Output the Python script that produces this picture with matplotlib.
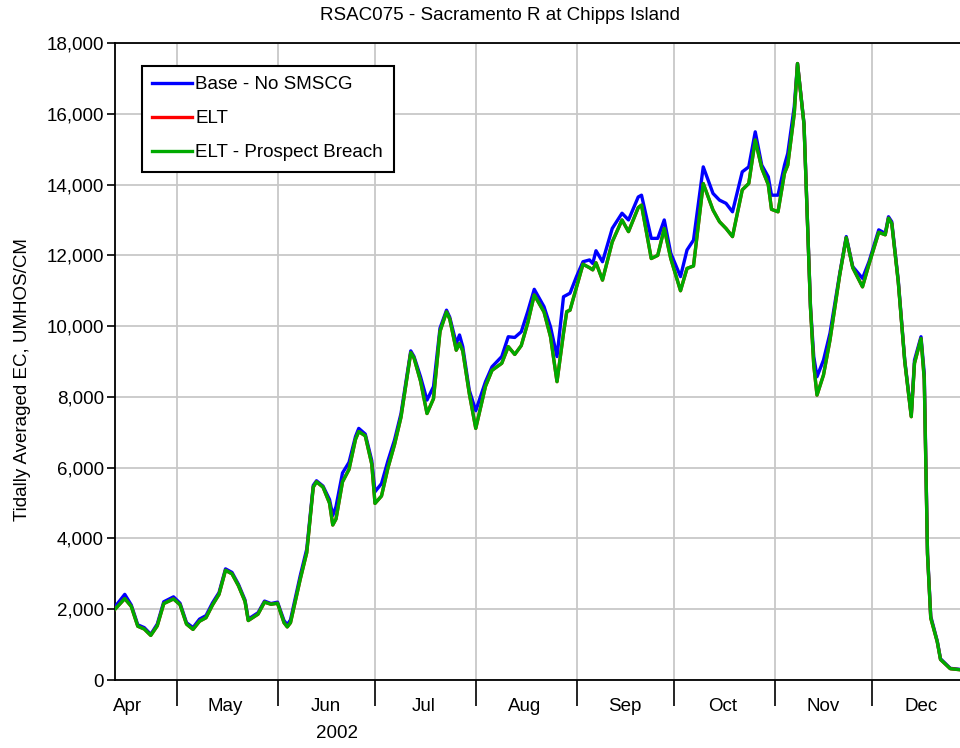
import matplotlib
matplotlib.use('Agg')
import matplotlib.pyplot as plt
import matplotlib.dates as mdates
import matplotlib.ticker as mticker
import pandas as pd

plt.rcParams['font.family'] = ['Liberation Sans', 'DejaVu Sans']

# daily EC, 2002
dates = ['2002-04-12', '2002-04-15', '2002-04-17', '2002-04-19', '2002-04-21', '2002-04-23',
         '2002-04-25', '2002-04-27', '2002-04-30', '2002-05-02', '2002-05-04', '2002-05-06',
         '2002-05-08', '2002-05-10', '2002-05-12', '2002-05-14', '2002-05-16', '2002-05-18',
         '2002-05-20', '2002-05-22', '2002-05-23', '2002-05-26', '2002-05-28', '2002-05-30',
         '2002-06-01', '2002-06-03', '2002-06-04', '2002-06-05', '2002-06-08', '2002-06-10',
         '2002-06-12', '2002-06-13', '2002-06-15', '2002-06-17', '2002-06-18', '2002-06-19',
         '2002-06-21', '2002-06-23', '2002-06-25', '2002-06-26', '2002-06-28', '2002-06-30',
         '2002-07-01', '2002-07-03', '2002-07-05', '2002-07-07', '2002-07-09', '2002-07-12',
         '2002-07-13', '2002-07-15', '2002-07-17', '2002-07-19', '2002-07-21', '2002-07-23',
         '2002-07-24', '2002-07-26', '2002-07-27', '2002-07-28', '2002-07-30', '2002-08-01',
         '2002-08-04', '2002-08-06', '2002-08-09', '2002-08-11', '2002-08-13', '2002-08-15',
         '2002-08-17', '2002-08-19', '2002-08-22', '2002-08-24', '2002-08-26', '2002-08-28',
         '2002-08-29', '2002-08-30', '2002-09-01', '2002-09-03', '2002-09-05', '2002-09-06',
         '2002-09-07', '2002-09-09', '2002-09-12', '2002-09-15', '2002-09-17', '2002-09-20',
         '2002-09-21', '2002-09-24', '2002-09-26', '2002-09-28', '2002-09-30', '2002-10-03',
         '2002-10-05', '2002-10-07', '2002-10-10', '2002-10-13', '2002-10-15', '2002-10-17',
         '2002-10-19', '2002-10-22', '2002-10-24', '2002-10-26', '2002-10-28', '2002-10-30',
         '2002-10-31', '2002-11-02', '2002-11-04', '2002-11-05', '2002-11-07', '2002-11-08',
         '2002-11-10', '2002-11-12', '2002-11-13', '2002-11-14', '2002-11-16', '2002-11-18',
         '2002-11-21', '2002-11-23', '2002-11-25', '2002-11-28', '2002-11-30', '2002-12-03',
         '2002-12-05', '2002-12-06', '2002-12-07', '2002-12-09', '2002-12-11', '2002-12-13',
         '2002-12-14', '2002-12-16', '2002-12-17', '2002-12-18', '2002-12-19', '2002-12-21',
         '2002-12-22', '2002-12-25', '2002-12-28']

base = [2070, 2420, 2120, 1560, 1480, 1290,
        1580, 2210, 2350, 2170, 1620, 1480,
        1720, 1820, 2180, 2470, 3140, 3040,
        2700, 2260, 1720, 1900, 2230, 2160,
        2200, 1680, 1560, 1700, 2950, 3700,
        5500, 5630, 5480, 5100, 4650, 4900,
        5850, 6150, 6880, 7110, 6950, 6200,
        5320, 5550, 6200, 6780, 7530, 9300,
        9140, 8570, 7910, 8290, 9940, 10450,
        10250, 9510, 9750, 9420, 8190, 7610,
        8430, 8850, 9140, 9700, 9680, 9840,
        10410, 11040, 10550, 9980, 9140, 10830,
        10880, 10930, 11400, 11820, 11870, 11770,
        12130, 11820, 12760, 13190, 13000, 13650,
        13700, 12480, 12480, 13000, 12060, 11400,
        12150, 12430, 14500, 13750, 13560, 13470,
        13230, 14360, 14500, 15490, 14550, 14220,
        13700, 13700, 14550, 14880, 16200, 17420,
        15730, 10550, 9140, 8570, 9040, 9800,
        11490, 12530, 11680, 11350, 11820, 12720,
        12620, 13090, 12950, 11300, 9040, 7490,
        9040, 9700, 8670, 3600, 1800, 1100,
        600, 330, 300]

elt = [2000, 2300, 2080, 1520, 1440, 1260,
       1530, 2160, 2290, 2130, 1580, 1430,
       1660, 1760, 2120, 2420, 3100, 3000,
       2660, 2220, 1680, 1860, 2200, 2140,
       2170, 1620, 1500, 1620, 2850, 3600,
       5450, 5600, 5450, 5000, 4380, 4550,
       5600, 5950, 6800, 7020, 6900, 6100,
       4990, 5200, 6000, 6650, 7430, 9250,
       9100, 8450, 7530, 7950, 9850, 10400,
       10200, 9320, 9510, 9300, 8100, 7110,
       8300, 8750, 8950, 9420, 9200, 9450,
       10090, 10880, 10400, 9700, 8430, 9800,
       10410, 10450, 11100, 11750, 11650, 11590,
       11790, 11300, 12380, 13000, 12670, 13350,
       13420, 11910, 12000, 12760, 11910, 11000,
       11630, 11700, 14030, 13280, 12950, 12760,
       12530, 13850, 14030, 15260, 14460, 14000,
       13300, 13230, 14320, 14550, 16000, 17420,
       15700, 10500, 8900, 8050, 8620, 9610,
       11450, 12500, 11650, 11110, 11750, 12650,
       12580, 13050, 12900, 11250, 9000, 7440,
       8950, 9650, 8500, 3550, 1750, 1080,
       580, 320, 290]

elt_prospect = list(elt)

month_labels = ['Apr', 'May', 'Jun', 'Jul', 'Aug', 'Sep', 'Oct', 'Nov', 'Dec']

x = pd.to_datetime(dates)

fig = plt.figure(figsize=(9.6, 7.48), dpi=100)
ax = fig.add_axes([0.1198, 0.0909, 0.8802, 0.8516])

ax.plot(x, base, color='#0000ff', lw=2.4, label='Base - No SMSCG', zorder=3)
ax.plot(x, elt, color='#ff0000', lw=2.4, label='ELT', zorder=4)
ax.plot(x, elt_prospect, color='#00aa00', lw=2.4, label='ELT - Prospect Breach', zorder=5)

ax.set_xlim(pd.Timestamp('2002-04-12'), pd.Timestamp('2002-12-28'))
ax.set_ylim(0, 18000)

ax.yaxis.set_major_locator(mticker.MultipleLocator(2000))
ax.yaxis.set_major_formatter(mticker.FuncFormatter(lambda v, p: f'{v:,.0f}'))
ax.tick_params(axis='y', direction='out', length=6, width=1.2, labelsize=13.5, pad=2)

ax.xaxis.set_major_locator(mdates.MonthLocator())
ax.xaxis.set_major_formatter(mticker.NullFormatter())
label_pos = [mdates.date2num(pd.Timestamp(2002, m, 16)) for m in range(4, 13)]
ax.xaxis.set_minor_locator(mticker.FixedLocator(label_pos))
ax.xaxis.set_minor_formatter(mticker.FixedFormatter(month_labels))
ax.tick_params(axis='x', which='major', direction='out', length=19, width=1.2)
ax.tick_params(axis='x', which='minor', length=0, labelsize=13.5, pad=13)

ax.grid(True, which='major', color='#c8c8c8', lw=1.3)
ax.set_axisbelow(True)

for s in ['left', 'bottom', 'top']:
    ax.spines[s].set_linewidth(1.3)
ax.spines['right'].set_visible(False)

fig.text(500 / 960, 1 - 15 / 748, 'RSAC075 - Sacramento R at Chipps Island',
         fontsize=13.5, ha='center', va='center')
fig.text(23 / 960, 1 - 380 / 748, 'Tidally Averaged EC, UMHOS/CM',
         fontsize=13.5, rotation=90, ha='center', va='center')
fig.text(337 / 960, 1 - 733 / 748, '2002', fontsize=13.5, ha='center', va='center')

leg = ax.legend(loc='upper left', bbox_to_anchor=(0.032, 0.964), borderaxespad=0,
                fontsize=13.5, fancybox=False, framealpha=1, edgecolor='black',
                handlelength=2.1, handletextpad=0.2, labelspacing=0.9,
                borderpad=0.55)
leg.get_frame().set_linewidth(1.5)

fig.savefig('out.png', dpi=100)
